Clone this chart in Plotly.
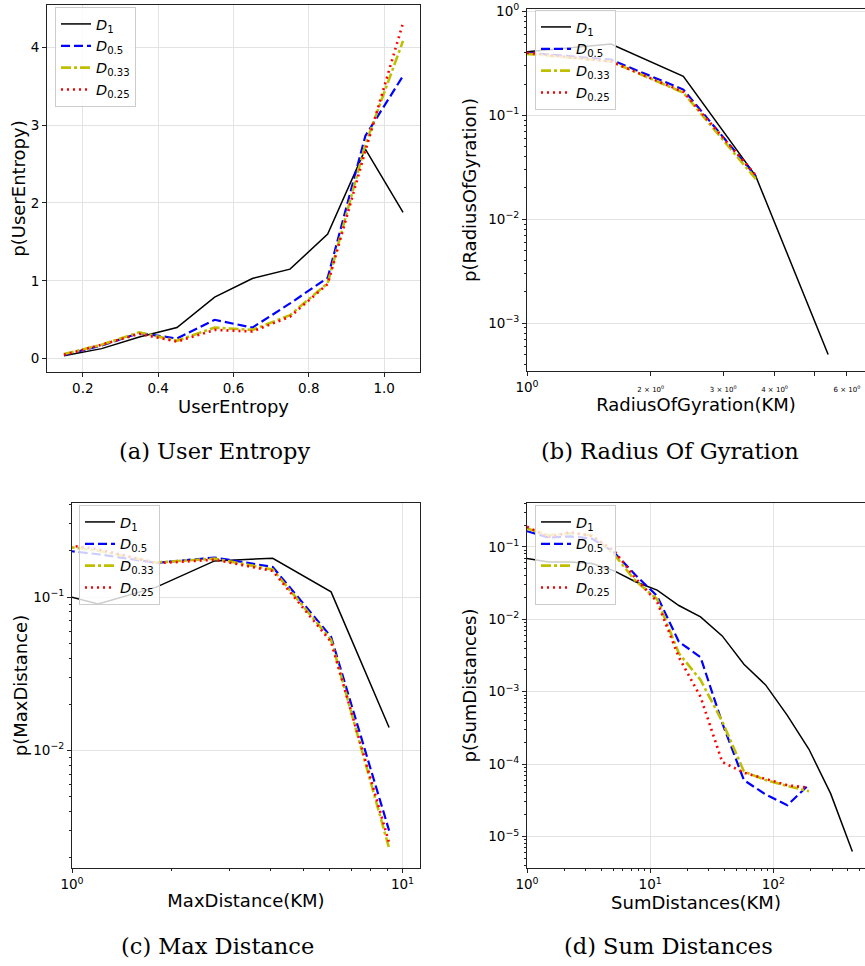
import numpy as np
import plotly.graph_objects as go

W, H = 865, 966

# ---------------- data ----------------
series_names = ["<i>D</i><sub>1</sub>", "<i>D</i><sub>0.5</sub>",
                "<i>D</i><sub>0.33</sub>", "<i>D</i><sub>0.25</sub>"]

entropy_x = [0.15, 0.25, 0.35, 0.45, 0.55, 0.65, 0.75, 0.85, 0.95, 1.05]
entropy_D1 = [0.04, 0.13, 0.28, 0.40, 0.79, 1.03, 1.15, 1.60, 2.69, 1.88]
entropy_D05 = [0.05, 0.17, 0.33, 0.26, 0.50, 0.40, 0.71, 1.04, 2.86, 3.63]
entropy_D033 = [0.06, 0.18, 0.34, 0.23, 0.40, 0.37, 0.56, 0.97, 2.75, 4.08]
entropy_D025 = [0.05, 0.18, 0.32, 0.22, 0.37, 0.35, 0.54, 0.96, 2.67, 4.31]

radius_x = [1.0, 1.6, 2.4, 3.6, 5.4]
radius_D1 = [0.41, 0.485, 0.237, 0.026, 0.0005]
radius_D05 = [0.40, 0.343, 0.177, 0.026]
radius_D033 = [0.39, 0.33, 0.165, 0.0245]
radius_D025 = [0.40, 0.33, 0.168, 0.0265]

maxd_x = [0.8, 1.2, 1.8, 2.7, 4.05, 6.08, 9.11]
maxd_D1 = [0.113, 0.090, 0.116, 0.172, 0.179, 0.108, 0.0141]
maxd_D05 = [0.21, 0.19, 0.167, 0.181, 0.157, 0.055, 0.0030]
maxd_D033 = [0.225, 0.20, 0.168, 0.178, 0.151, 0.0526, 0.0023]
maxd_D025 = [0.23, 0.205, 0.166, 0.175, 0.148, 0.051, 0.0025]

sumd_x = [1, 1.5, 2.25, 3.38, 5.06, 7.59, 11.39, 17.09, 25.63, 38.44,
          57.67, 86.5, 129.75, 194.62, 291.93, 437.89]
sumd_D1 = [0.069, 0.062, 0.062, 0.059, 0.047, 0.033, 0.0253, 0.0155, 0.0108,
           0.0059, 0.0024, 0.00124, 0.00047, 0.00016, 3.9e-5, 6.2e-6]
sumd_D05 = [0.165, 0.135, 0.14, 0.13, 0.085, 0.041, 0.021, 0.0049, 0.0030,
            0.00037, 6.0e-5, 3.8e-5, 2.7e-5, 5.2e-5]
sumd_D033 = [0.18, 0.145, 0.155, 0.145, 0.08, 0.034, 0.019, 0.0034, 0.00145,
             0.00039, 7.9e-5, 6.0e-5, 5.0e-5, 4.2e-5]
sumd_D025 = [0.19, 0.137, 0.16, 0.14, 0.09, 0.037, 0.0175, 0.003, 0.00085,
             0.000107, 7.6e-5, 6.2e-5, 5.1e-5, 4.7e-5]

entropy_ticks = [0.2, 0.4, 0.6, 0.8, 1.0]
entropy_ticktext = ["0.2", "0.4", "0.6", "0.8", "1.0"]
entropy_yticks = [0, 1, 2, 3, 4]
entropy_yticktext = ["0", "1", "2", "3", "4"]

radius_xticks = [1, 2, 3, 4, 5, 6]
small = "<span style='font-size:7px'>%s</span>"
radius_xticktext = ["10<sup>0</sup>", small % "2 × 10<sup>0</sup>", small % "3 × 10<sup>0</sup>",
                    small % "4 × 10<sup>0</sup>", " ", small % "6 × 10<sup>0</sup>"]
radius_yticks = [1, 0.1, 0.01, 0.001]
radius_yticktext = ["10<sup>0</sup>", "10<sup>−1</sup>", "10<sup>−2</sup>", "10<sup>−3</sup>"]

maxd_xticks = [1, 10]
maxd_xticktext = ["10<sup>0</sup>", "10<sup>1</sup>"]
maxd_yticks = [0.1, 0.01]
maxd_yticktext = ["10<sup>−1</sup>", "10<sup>−2</sup>"]

sumd_xticks = [1, 10, 100]
sumd_xticktext = ["10<sup>0</sup>", "10<sup>1</sup>", "10<sup>2</sup>"]
sumd_yticks = [0.1, 0.01, 0.001, 0.0001, 0.00001]
sumd_yticktext = ["10<sup>−1</sup>", "10<sup>−2</sup>", "10<sup>−3</sup>",
                  "10<sup>−4</sup>", "10<sup>−5</sup>"]

captions = ["(a) User Entropy", "(b) Radius Of Gyration", "(c) Max Distance", "(d) Sum Distances"]

# ---------------- styles ----------------
styles = [
    dict(color="black", width=1.5, dash="solid"),
    dict(color="#0000ff", width=2.2, dash="9px,4px"),
    dict(color="#bfbf00", width=2.6, dash="10px,3px,3px,3px"),
    dict(color="#ff0000", width=2.6, dash="2px,4px"),
]

FONT = "DejaVu Sans"
fig = go.Figure()

panels = [
    ("x", "y", "legend", entropy_x, [entropy_D1, entropy_D05, entropy_D033, entropy_D025]),
    ("x2", "y2", "legend2", radius_x, [radius_D1, radius_D05, radius_D033, radius_D025]),
    ("x3", "y3", "legend3", maxd_x, [maxd_D1, maxd_D05, maxd_D033, maxd_D025]),
    ("x4", "y4", "legend4", sumd_x, [sumd_D1, sumd_D05, sumd_D033, sumd_D025]),
]
for xa, ya, lg, xs, ys_list in panels:
    for name, ys, st in zip(series_names, ys_list, styles):
        fig.add_trace(go.Scatter(
            x=xs[:len(ys)], y=ys, mode="lines", name=name,
            line=dict(color=st["color"], width=st["width"], dash=st["dash"]),
            xaxis=xa, yaxis=ya, legend=lg, showlegend=True))


def dom_x(a, b):
    return [a / W, min(b / W, 1.0)]


def dom_y(top, bot):
    return [1 - bot / H, 1 - top / H]


def minor_vals(lo_dec, hi_dec):
    vals = []
    for d in range(lo_dec, hi_dec + 1):
        for m in range(2, 10):
            vals.append(m * 10.0 ** d)
    return vals


grid = "#e3e3e3"
linec = "#222222"
tickfont = dict(family=FONT, size=13.5, color="black")
titlefont = dict(family=FONT, size=18, color="black")

common = dict(showline=True, linecolor=linec, linewidth=1, ticks="outside",
              ticklen=4, tickcolor=linec, gridcolor=grid, gridwidth=1,
              zeroline=False, automargin=False, tickfont=tickfont, tickmode="array")

layout = dict(
    width=W, height=H, margin=dict(l=0, r=0, t=0, b=0),
    paper_bgcolor="white", plot_bgcolor="white",
    font=dict(family=FONT, color="black"),
)

# (a)
layout["xaxis"] = dict(common, domain=dom_x(47, 420), anchor="y", range=[0.105, 1.095],
                       mirror=True, tickvals=entropy_ticks, ticktext=entropy_ticktext,
                       showgrid=True,
                       title=dict(text="UserEntropy", font=titlefont, standoff=0))
layout["yaxis"] = dict(common, domain=dom_y(5, 372), anchor="x", range=[-0.17, 4.54],
                       mirror=True, tickvals=entropy_yticks, ticktext=entropy_yticktext,
                       showgrid=True,
                       title=dict(text="p(UserEntropy)", font=titlefont, standoff=0))
# (b)
layout["xaxis2"] = dict(common, domain=dom_x(527, 866), anchor="y2", type="log",
                        range=[0, 0.822], mirror=True, tickvals=radius_xticks,
                        ticktext=radius_xticktext, showgrid=False,
                        title=dict(text="RadiusOfGyration(KM)", font=titlefont, standoff=4))
layout["yaxis2"] = dict(common, domain=dom_y(9, 371), anchor="x2", type="log",
                        range=[-3.46, 0.023], mirror=False, tickvals=radius_yticks,
                        ticktext=radius_yticktext, showgrid=True,
                        minor=dict(tickmode="array", tickvals=minor_vals(-4, -1),
                                   ticks="outside", ticklen=2, tickcolor=linec, showgrid=False),
                        title=dict(text="p(RadiusOfGyration)", font=titlefont, standoff=6))
# (c)
layout["xaxis3"] = dict(common, domain=dom_x(72, 420), anchor="y3", type="log",
                        range=[0, 1.053], mirror=True, tickvals=maxd_xticks,
                        ticktext=maxd_xticktext, showgrid=True,
                        minor=dict(tickmode="array", tickvals=minor_vals(0, 0),
                                   ticks="outside", ticklen=2, tickcolor=linec, showgrid=False),
                        title=dict(text="MaxDistance(KM)", font=titlefont, standoff=3))
layout["yaxis3"] = dict(common, domain=dom_y(503, 868), anchor="x3", type="log",
                        range=[-2.767, -0.387], mirror=True, tickvals=maxd_yticks,
                        ticktext=maxd_yticktext, showgrid=True,
                        minor=dict(tickmode="array", tickvals=minor_vals(-3, -1),
                                   ticks="outside", ticklen=2, tickcolor=linec, showgrid=False),
                        title=dict(text="p(MaxDistance)", font=titlefont, standoff=0))
# (d)
layout["xaxis4"] = dict(common, domain=dom_x(527, 866), anchor="y4", type="log",
                        range=[0, 2.744], mirror=True, tickvals=sumd_xticks,
                        ticktext=sumd_xticktext, showgrid=True,
                        minor=dict(tickmode="array", tickvals=minor_vals(0, 2),
                                   ticks="outside", ticklen=2, tickcolor=linec, showgrid=False),
                        title=dict(text="SumDistances(KM)", font=titlefont, standoff=3))
layout["yaxis4"] = dict(common, domain=dom_y(503, 868), anchor="x4", type="log",
                        range=[-5.436, -0.393], mirror=False, tickvals=sumd_yticks,
                        ticktext=sumd_yticktext, showgrid=True,
                        minor=dict(tickmode="array", tickvals=minor_vals(-6, -1),
                                   ticks="outside", ticklen=2, tickcolor=linec, showgrid=False),
                        title=dict(text="p(SumDistances)", font=titlefont, standoff=6))

legfont = dict(family=FONT, size=14.5, color="black")
legbase = dict(bgcolor="rgba(255,255,255,0.8)", bordercolor="#cccccc", borderwidth=1,
               font=legfont, xanchor="left", yanchor="top", tracegroupgap=0,
               itemwidth=30)
layout["legend"] = dict(legbase, x=55 / W, y=1 - 7 / H)
layout["legend2"] = dict(legbase, x=535 / W, y=1 - 10 / H)
layout["legend3"] = dict(legbase, x=79 / W, y=1 - 505 / H)
layout["legend4"] = dict(legbase, x=535 / W, y=1 - 505 / H)

capfont = dict(family="DejaVu Serif", size=22.5, color="black")
cap_pos = [(215, 451), (670, 451), (217, 946), (668, 946)]
layout["annotations"] = [
    dict(text=t, x=cx / W, y=1 - cy / H, xref="paper", yref="paper",
         xanchor="center", yanchor="middle", showarrow=False, font=capfont)
    for t, (cx, cy) in zip(captions, cap_pos)
]

fig.update_layout(**layout)
fig.write_html("out.html")
